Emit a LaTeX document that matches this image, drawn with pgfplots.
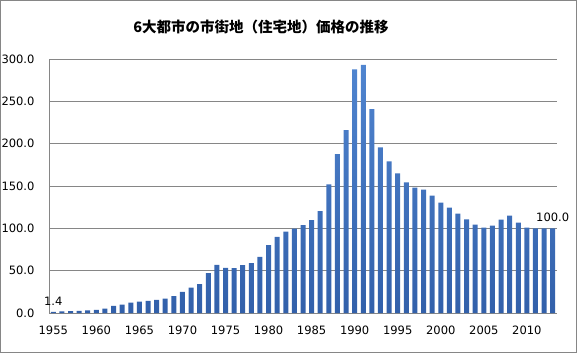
\documentclass[border=0pt]{standalone}
\usepackage{pgfplots}
\pgfplotsset{compat=1.18}
\usepackage{fontspec}
\setmainfont{DejaVu Sans}
\newfontfamily\cjk{Noto Sans CJK JP}
\definecolor{bartop}{RGB}{80,133,208}
\definecolor{barbot}{RGB}{50,96,170}
\definecolor{gridc}{RGB}{134,134,134}
\pgfplotstableread{
year value
1955 1.4
1956 1.8
1957 2.2
1958 2.6
1959 3.0
1960 3.8
1961 5.3
1962 8.5
1963 9.8
1964 12.2
1965 13.5
1966 14.4
1967 15.6
1968 17.0
1969 20.0
1970 25.0
1971 30.0
1972 34.2
1973 47.2
1974 56.8
1975 53.2
1976 53.0
1977 56.5
1978 59.0
1979 66.2
1980 80.3
1981 90.0
1982 96.2
1983 99.8
1984 103.8
1985 109.8
1986 120.3
1987 151.9
1988 187.5
1989 216.0
1990 287.6
1991 293.1
1992 240.9
1993 195.6
1994 179.0
1995 164.8
1996 154.2
1997 148.2
1998 145.8
1999 138.7
2000 130.4
2001 124.5
2002 117.4
2003 110.7
2004 104.3
2005 100.8
2006 103.2
2007 110.3
2008 115.0
2009 106.7
2010 100.8
2011 100.0
2012 100.0
2013 100.0
}\landdata
\pgfplotstableread{
year value
1955 1.4
2013 100.0
}\labeldata
\begin{document}
\begin{tikzpicture}[x=1pt,y=1pt]
\useasboundingbox (0,0) rectangle (577,353);
\draw[gridc, line width=0.8pt] (0.4,0.4) rectangle (576.6,352.6);
\node[font=\cjk\bfseries\fontsize{14.5}{17}\selectfont] at (261,326) {6大都市の市街地（住宅地）価格の推移};
\begin{axis}[
  at={(49pt,40pt)}, anchor=south west,
  scale only axis, width=508pt, height=254pt,
  xmin=1954.5, xmax=2013.5, ymin=0, ymax=300,
  axis lines*=left,
  axis line style={gridc, line width=0.6pt},
  major tick length=0pt,
  xtick={1955,1960,...,2010},
  ytick={0,50,...,300},
  ymajorgrids, grid style={gridc, line width=0.6pt},
  /pgf/number format/assume math mode=true,
  xticklabel style={font=\fontsize{11.5}{13}\selectfont, /pgf/number format/set thousands separator={}, yshift=-9pt},
  yticklabel style={font=\fontsize{11.5}{13}\selectfont, /pgf/number format/fixed, /pgf/number format/fixed zerofill, /pgf/number format/precision=1, xshift=-11pt},
  clip=false,
]
\addplot[ybar, bar width=5pt, draw=none, top color=bartop, bottom color=barbot] table[x=year, y=value] {\landdata};
\addplot[draw=none, mark=none, nodes near coords, point meta=y,
  nodes near coords style={font=\fontsize{11.5}{13}\selectfont, yshift=3pt, /pgf/number format/fixed, /pgf/number format/fixed zerofill, /pgf/number format/precision=1, /pgf/number format/assume math mode=true},
  ] table[x=year, y=value] {\labeldata};
\end{axis}
\end{tikzpicture}
\end{document}
